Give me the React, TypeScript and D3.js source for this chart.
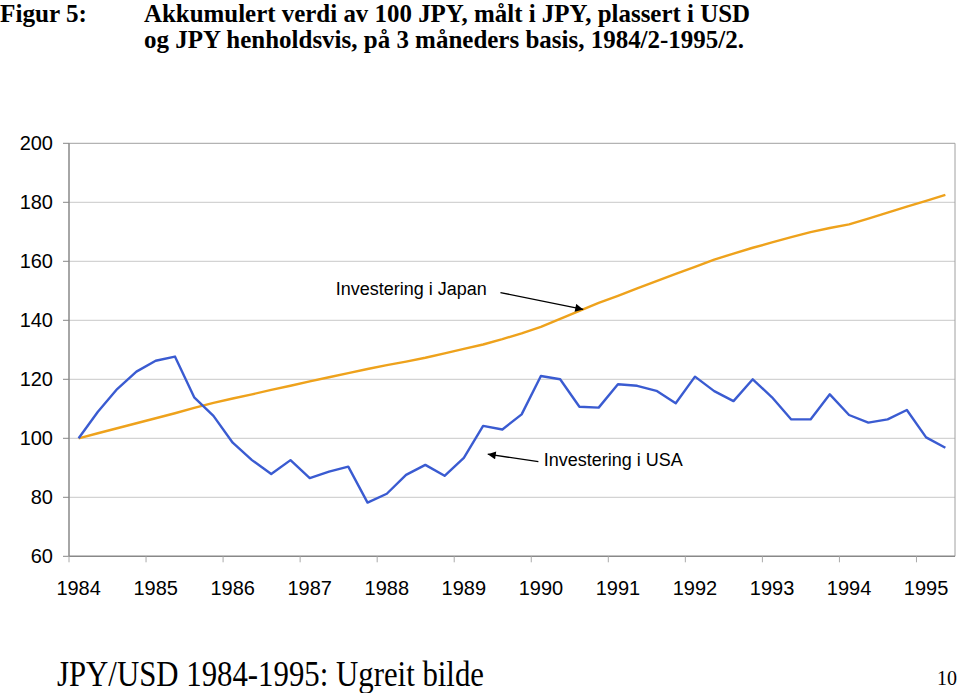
import React from 'react';
import * as d3 from 'd3';

const categories = [
  '1984/2','1984/5','1984/8','1984/11','1985/2','1985/5','1985/8','1985/11',
  '1986/2','1986/5','1986/8','1986/11','1987/2','1987/5','1987/8','1987/11',
  '1988/2','1988/5','1988/8','1988/11','1989/2','1989/5','1989/8','1989/11',
  '1990/2','1990/5','1990/8','1990/11','1991/2','1991/5','1991/8','1991/11',
  '1992/2','1992/5','1992/8','1992/11','1993/2','1993/5','1993/8','1993/11',
  '1994/2','1994/5','1994/8','1994/11','1995/2','1995/5'
];

const usaValues = [
  100, 109, 116.7, 122.6, 126.3, 127.7, 113.9, 107.6, 98.5, 92.6,
  87.9, 92.6, 86.5, 88.7, 90.4, 78.2, 81.2, 87.6, 91, 87.3,
  93.4, 104.2, 103, 108.1, 121.1, 120, 110.7, 110.4, 118.3, 117.8,
  116.1, 111.9, 120.9, 116, 112.6, 120, 113.9, 106.4, 106.4, 114.9,
  107.9, 105.3, 106.4, 109.6, 100.3, 96.8
];

const japanValues = [
  100, 101.7, 103.4, 105.1, 106.8, 108.5, 110.3, 112.0, 113.5, 114.9,
  116.4, 117.8, 119.3, 120.7, 122.1, 123.5, 124.8, 126.0, 127.3, 128.8,
  130.3, 131.8, 133.6, 135.6, 137.8, 140.5, 143.2, 145.9, 148.3, 150.8,
  153.3, 155.7, 158.1, 160.6, 162.6, 164.6, 166.4, 168.2, 169.9, 171.3,
  172.5, 174.5, 176.5, 178.5, 180.5, 182.5
];

const yearLabels = ['1984','1985','1986','1987','1988','1989','1990','1991','1992','1993','1994','1995'];
const yTicks = [60, 80, 100, 120, 140, 160, 180, 200];

// annotations in data coordinates: [categoryIndex, value]
const japanLabel = { text: 'Investering i Japan', at: [13.35, 150.6], from: [21.9, 149.4], to: [26.2, 143.7] };
const usaLabel = { text: 'Investering i USA', at: [24.15, 92.6], from: [23.87, 92.1], to: [21.24, 94.6] };

const W = 960, H = 693;
const plot = { left: 69, right: 955, top: 143.3, bottom: 556.3 };

export default function App() {
  const n = categories.length;
  const x = d3.scaleLinear().domain([-0.5, n - 0.5]).range([plot.left, plot.right]);
  const step = (plot.right - plot.left) / n;
  const y = d3.scaleLinear().domain([60, 200]).range([plot.bottom, plot.top]);
  const line = d3.line<number>().x((_, i) => x(i)).y(d => y(d));

  const sans = 'Arial, "Liberation Sans", sans-serif';
  const serif = '"Times New Roman", "Liberation Serif", serif';

  const tickIdx = yearLabels.map((_, k) => k * 4);

  return (
    <svg width={W} height={H} style={{ position: 'absolute', left: 0, top: 0, background: '#fff' }}>
      <defs>
        <marker id="arr" viewBox="0 0 10 10" refX="10" refY="5" markerWidth="10" markerHeight="8" markerUnits="userSpaceOnUse" orient="auto">
          <path d="M0,0 L10,5 L0,10 z" fill="#000" />
        </marker>
      </defs>
      {/* titles */}
      <text x={0} y={22} fontFamily={serif} fontWeight="bold" fontSize={25} textLength={87} lengthAdjust="spacingAndGlyphs">Figur 5:</text>
      <text x={144} y={22} fontFamily={serif} fontWeight="bold" fontSize={25} textLength={606} lengthAdjust="spacingAndGlyphs">Akkumulert verdi av 100 JPY, målt i JPY, plassert i USD</text>
      <text x={144} y={48} fontFamily={serif} fontWeight="bold" fontSize={25} textLength={600} lengthAdjust="spacingAndGlyphs">og JPY henholdsvis, på 3 måneders basis, 1984/2-1995/2.</text>

      {/* gridlines */}
      {yTicks.filter(t => t !== 60).map(t => (
        <line key={t} x1={plot.left} x2={plot.right} y1={y(t)} y2={y(t)} stroke={t === 200 ? '#a0a0a0' : '#c8c8c8'} strokeWidth={1} />
      ))}
      <line x1={plot.right} x2={plot.right} y1={plot.top} y2={plot.bottom} stroke="#a0a0a0" strokeWidth={1} />

      {/* y axis */}
      <line x1={plot.left} x2={plot.left} y1={plot.top} y2={plot.bottom} stroke="#888" strokeWidth={1.5} />
      {yTicks.map(t => (
        <g key={t}>
          <line x1={plot.left - 6} x2={plot.left} y1={y(t)} y2={y(t)} stroke="#888" />
          <text x={53} y={y(t)} dy="0.35em" textAnchor="end" fontFamily={sans} fontSize={20} fill="#000">{t}</text>
        </g>
      ))}

      {/* x axis */}
      <line x1={plot.left} x2={plot.right} y1={plot.bottom} y2={plot.bottom} stroke="#888" strokeWidth={1.5} />
      {tickIdx.map(i => (
        <line key={'t' + i} x1={plot.left + step * i} x2={plot.left + step * i} y1={plot.bottom} y2={plot.bottom + 6} stroke="#aaa" />
      ))}
      {tickIdx.map((i, k) => (
        <text key={'l' + i} x={x(i)} y={595} textAnchor="middle" fontFamily={sans} fontSize={20} fill="#000">{yearLabels[k]}</text>
      ))}

      {/* series */}
      <path d={line(japanValues) || ''} fill="none" stroke="#eea21c" strokeWidth={2.4} strokeLinejoin="round" />
      <path d={line(usaValues) || ''} fill="none" stroke="#3a5bd1" strokeWidth={2.4} strokeLinejoin="round" />

      {/* annotations */}
      {[japanLabel, usaLabel].map(a => (
        <g key={a.text}>
          <text x={x(a.at[0])} y={y(a.at[1])} dy="0.35em" fontFamily={sans} fontSize={18} fill="#000">{a.text}</text>
          <line x1={x(a.from[0])} y1={y(a.from[1])} x2={x(a.to[0])} y2={y(a.to[1])} stroke="#000" strokeWidth={1.3} markerEnd="url(#arr)" />
        </g>
      ))}

      {/* footer */}
      <text x={57} y={686} fontFamily={serif} fontSize={35} textLength={427} lengthAdjust="spacingAndGlyphs">JPY/USD 1984-1995: Ugreit bilde</text>
      <text x={937} y={685} fontFamily={serif} fontSize={22} textLength={20} lengthAdjust="spacingAndGlyphs">10</text>
    </svg>
  );
}
